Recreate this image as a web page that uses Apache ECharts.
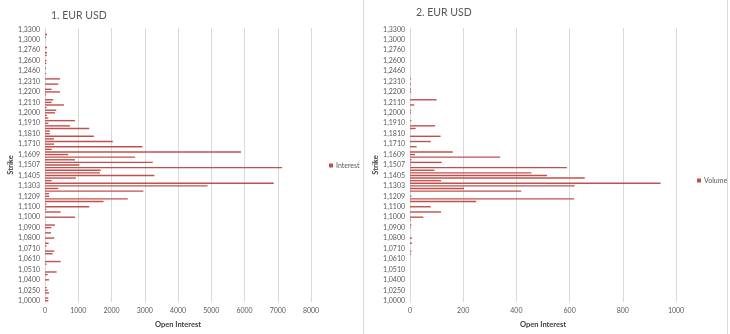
<!DOCTYPE html>
<html>
<head>
<meta charset="utf-8">
<script src="https://cdn.jsdelivr.net/npm/echarts@6/dist/echarts.min.js"></script>
<style>
html,body{margin:0;padding:0;background:#fff;}
#c{width:730px;height:334px;}
</style>
</head>
<body>
<div id="c"></div>
<script>
var strikes = [
"1,0000","1,0070","1,0130","1,0200",
"1,0250","1,0290","1,0330","1,0370",
"1,0400","1,0430","1,0460","1,0480",
"1,0510","1,0540","1,0560","1,0590",
"1,0610","1,0640","1,0660","1,0690",
"1,0710","1,0730","1,0760","1,0780",
"1,0800","1,0830","1,0850","1,0880",
"1,0900","1,0930","1,0950","1,0980",
"1,1000","1,1020","1,1050","1,1070",
"1,1100","1,1130","1,1150","1,1180",
"1,1209","1,1230","1,1260","1,1280",
"1,1303","1,1330","1,1355","1,1380",
"1,1405","1,1430","1,1455","1,1480",
"1,1507","1,1530","1,1555","1,1580",
"1,1609","1,1635","1,1660","1,1685",
"1,1710","1,1735","1,1760","1,1785",
"1,1810","1,1835","1,1860","1,1885",
"1,1910","1,1930","1,1955","1,1980",
"1,2000","1,2030","1,2055","1,2080",
"1,2110","1,2130","1,2160","1,2180",
"1,2200","1,2230","1,2260","1,2280",
"1,2310","1,2350","1,2390","1,2420",
"1,2460","1,2490","1,2530","1,2560",
"1,2600","1,2640","1,2680","1,2720",
"1,2760","1,2820","1,2880","1,2940",
"1,3000","1,3080","1,3150","1,3220",
"1,3300"
];

var interest = [
100,100,0,120,80,50,0,0,120,0,
80,350,0,0,50,470,0,0,230,280,
0,50,110,0,280,0,180,0,190,300,
0,0,900,0,470,40,1330,40,1760,2490,
130,120,2960,400,4890,6880,200,930,3290,1655,
1675,7130,1035,3240,900,2710,700,5895,200,2930,
270,2040,270,1470,140,150,1330,750,100,900,
100,60,300,340,50,570,200,250,0,30,
450,200,0,400,0,450,0,30,0,30,
0,40,50,0,50,60,0,60,0,0,
0,30,60,0,0
];

var volume = [
0,0,0,0,0,0,0,0,0,0,
0,0,0,0,0,0,0,0,3,5,
0,0,7,0,7,0,0,0,3,5,
0,3,50,0,117,0,78,0,249,617,
5,0,418,203,619,942,117,657,515,456,
92,590,3,119,5,339,19,161,0,25,
0,78,0,115,0,0,21,94,0,5,
0,0,3,3,0,16,0,100,0,0,
4,4,0,4,0,4,0,0,0,0,
0,0,0,0,0,0,0,0,0,0,
0,0,0,0,0
];

var titles = ["1. EUR USD", "2. EUR USD"];
var seriesNames = ["Interest", "Volume"];
var xName = "Open Interest";
var yName = "Strike";

var FONT = "Lato";
var RED = "#C0504D";
var chart = echarts.init(document.getElementById('c'), null, {renderer:'canvas'});

function yAxis(idx){
  return {
    type:'category', gridIndex:idx, data:strikes,
    name:yName, nameLocation:'middle', nameGap:29, nameRotate:90,
    nameTextStyle:{fontFamily:FONT,fontSize:7.5,fontWeight:'bold',color:'#404040'},
    axisLine:{show:true,lineStyle:{color:'#d9d9d9'}},
    axisTick:{show:false},
    axisLabel:{interval:3,fontFamily:FONT,fontSize:7,color:'#595959',margin:5},
    splitLine:{show:false}
  };
}
function xAxis(idx, max, interval){
  return {
    type:'value', gridIndex:idx, min:0, max:max, interval:interval,
    name:xName, nameLocation:'middle', nameGap:19,
    nameTextStyle:{fontFamily:FONT,fontSize:7.5,fontWeight:'bold',color:'#404040'},
    axisLine:{show:false}, axisTick:{show:false},
    axisLabel:{fontFamily:FONT,fontSize:7,color:'#595959',margin:5,
      formatter:function(v){return String(v);}},
    splitLine:{show:true,lineStyle:{color:'#d9d9d9',width:1}}
  };
}

chart.setOption({
  animation:false,
  backgroundColor:'#ffffff',
  title:[
    {text:titles[0],left:46,top:5,textStyle:{fontFamily:FONT,fontSize:10.5,fontWeight:'normal',color:'#595959'}},
    {text:titles[1],left:411,top:2,textStyle:{fontFamily:FONT,fontSize:10.5,fontWeight:'normal',color:'#595959'}}
  ],
  legend:[
    {data:[seriesNames[0]],left:329,top:162,itemWidth:4,itemHeight:4,itemGap:4,
     textStyle:{fontFamily:FONT,fontSize:7,color:'#595959',padding:[0,0,0,-2]},icon:'rect',padding:0},
    {data:[seriesNames[1]],left:697,top:177,itemWidth:4,itemHeight:4,itemGap:4,
     textStyle:{fontFamily:FONT,fontSize:7,color:'#595959',padding:[0,0,0,-2]},icon:'rect',padding:0}
  ],
  grid:[
    {left:45,width:266,top:28,bottom:24.4},
    {left:410,width:266,top:28,bottom:24.4}
  ],
  xAxis:[xAxis(0,8000,1000), xAxis(1,1000,200)],
  yAxis:[yAxis(0), yAxis(1)],
  series:[
    {name:seriesNames[0],type:'bar',xAxisIndex:0,yAxisIndex:0,data:interest,
     barWidth:1.4,itemStyle:{color:RED}},
    {name:seriesNames[1],type:'bar',xAxisIndex:1,yAxisIndex:1,data:volume,
     barWidth:1.4,itemStyle:{color:RED}}
  ],
  graphic:[
    {type:'line',shape:{x1:363.5,y1:0,x2:363.5,y2:334},style:{stroke:'#d9d9d9',lineWidth:1},silent:true},
    {type:'line',shape:{x1:727.5,y1:0,x2:727.5,y2:334},style:{stroke:'#d9d9d9',lineWidth:1},silent:true}
  ]
});
</script>
</body>
</html>
